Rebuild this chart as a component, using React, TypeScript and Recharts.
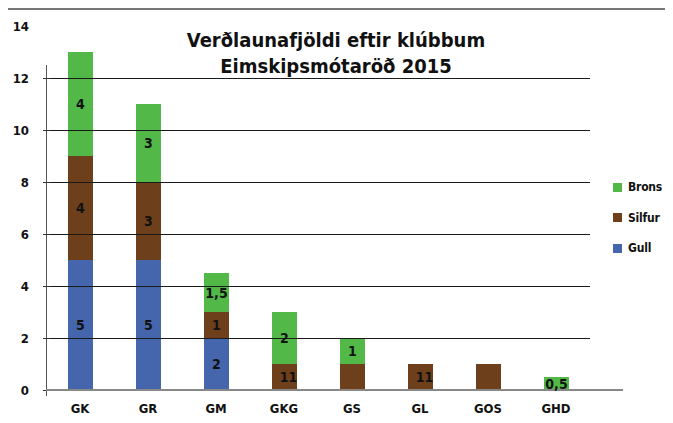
import React from 'react';
import { BarChart, Bar, XAxis, YAxis, LabelList, ReferenceLine } from 'recharts';

const clubs = ['GK', 'GR', 'GM', 'GKG', 'GS', 'GL', 'GOS', 'GHD'];
const gull = [5, 5, 2, 0, 0, 0, 0, 0];
const silfur = [4, 3, 1, 1, 1, 1, 1, 0];
const brons = [4, 3, 1.5, 2, 1, 0, 0, 0.5];
const gullLabels = ['5', '5', '2', '', '', '', '', ''];
const silfurLabels = ['4', '3', '1', '11', '', '11', '', ''];
const bronsLabels = ['4', '3', '1,5', '2', '1', '', '', '0,5'];
const yTicks = [0, 2, 4, 6, 8, 10, 12, 14];
const gridValues = [2, 4, 6, 8, 10, 12];

const series = [
  { key: 'gull', name: 'Gull', color: '#4565ad' },
  { key: 'silfur', name: 'Silfur', color: '#6e3f1b' },
  { key: 'brons', name: 'Brons', color: '#52b848' },
];

const data = clubs.map((club, i) => ({
  club,
  gull: gull[i],
  silfur: silfur[i],
  brons: brons[i],
  gullLabel: gullLabels[i],
  silfurLabel: silfurLabels[i],
  bronsLabel: bronsLabels[i],
}));

const FONT = '"DejaVu Sans Condensed", "Liberation Sans", Arial, sans-serif';
const CHART_W = 660;
const CHART_H = 405;
const MARGIN = { top: 16, right: 77, bottom: 3, left: 9 };
const X_AXIS_H = 22;
const PLOT_H = CHART_H - MARGIN.top - MARGIN.bottom - X_AXIS_H;
const UNIT = PLOT_H / 14;

const YTick = (props: any) => {
  const { x, y, payload } = props;
  const v = payload.value;
  return (
    <g>
      <text x={x - 17} y={y} dy={5} textAnchor="end" fontSize={13} fontWeight={700} fill="#111" fontFamily={FONT}>
        {v}
      </text>
      {v < 14 && <line x1={x - 3} x2={x + 4} y1={y + 0.5} y2={y + 0.5} stroke="#333" strokeWidth={1} />}
      {v === 0 && (
        <>
          <line x1={x + 0.5} x2={x + 0.5} y1={y + 6} y2={y - 12.5 * UNIT} stroke="#555" strokeWidth={1} />
          <line x1={x} x2={x + 577} y1={y} y2={y} stroke="#888" strokeWidth={2} />
        </>
      )}
    </g>
  );
};

const GridLine = (props: any) => {
  const { x1, x2, y1, y2 } = props;
  return <line x1={x1} x2={x2} y1={y1 + 0.5} y2={y2 + 0.5} stroke="#1a1a1a" strokeWidth={1} />;
};

const SegLabel = (props: any) => {
  const { x, y, width, height, value } = props;
  if (!value) return null;
  const off = value === '11' ? 4 : 0;
  return (
    <text x={x + width / 2 + off} y={y + height / 2} dy={5} textAnchor="middle" fontSize={14} fontWeight={700} fill="#111" fontFamily={FONT}>
      {value}
    </text>
  );
};

export default function App() {
  return (
    <div
      style={{
        position: 'relative',
        width: CHART_W,
        height: CHART_H,
        marginLeft: -3,
        borderTop: '2px solid #777',
        borderLeft: '2px solid #777',
        background: '#fff',
      }}
    >
      <div
        style={{
          position: 'absolute',
          left: 0,
          top: 17,
          width: 658,
          textAlign: 'center',
          fontFamily: FONT,
          fontWeight: 700,
          fontSize: 20,
          lineHeight: '26px',
          color: '#111',
          zIndex: 1,
        }}
      >
        Verðlaunafjöldi eftir klúbbum
        <br />
        Eimskipsmótaröð 2015
      </div>
      <div style={{ position: 'absolute', left: 606, top: 162, fontFamily: FONT, zIndex: 1 }}>
        {[...series].reverse().map((s) => (
          <div key={s.key} style={{ display: 'flex', alignItems: 'center', height: 30.5 }}>
            <span style={{ width: 9, height: 9, background: s.color, display: 'inline-block', marginRight: 6 }} />
            <span style={{ fontSize: 12, letterSpacing: -0.2, fontWeight: 700, color: '#111' }}>{s.name}</span>
          </div>
        ))}
      </div>
      <BarChart width={CHART_W} height={CHART_H} data={data} margin={MARGIN} barSize={25}>
        <XAxis
          dataKey="club"
          height={X_AXIS_H}
          axisLine={false}
          tickLine={false}
          tickSize={0}
          tickMargin={14}
          tick={{ fontSize: 13, fontWeight: 700, fill: '#111', fontFamily: FONT }}
        />
        <YAxis
          width={30}
          domain={[0, 14]}
          ticks={yTicks}
          interval={0}
          axisLine={false}
          tickLine={false}
          tickSize={0}
          tickMargin={0}
          tick={<YTick />}
        />
        {series.map((s) => (
          <Bar key={s.key} dataKey={s.key} name={s.name} stackId="a" fill={s.color} isAnimationActive={false}>
            <LabelList dataKey={`${s.key}Label`} content={<SegLabel />} />
          </Bar>
        ))}
        {gridValues.map((v) => (
          <ReferenceLine key={v} y={v} shape={<GridLine />} />
        ))}
      </BarChart>
    </div>
  );
}
